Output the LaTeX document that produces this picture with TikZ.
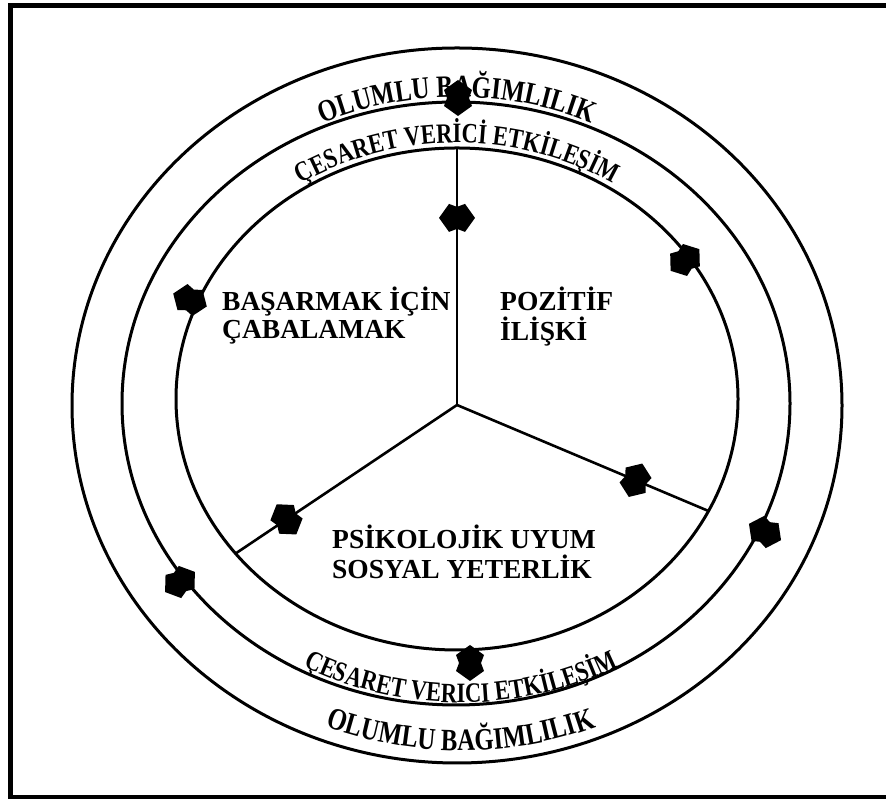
\documentclass[tikz,border=0pt]{standalone}
\usepackage{fontspec}
\setmainfont{Liberation Serif}
\newfontfamily\bandfont{Liberation Serif}[FakeStretch=0.8]
\usetikzlibrary{calc,decorations.text}
\begin{document}
\begin{tikzpicture}[x=1pt,y=1pt,
  ring/.style={line width=3pt},
  spoke/.style={line width=2.6pt},
  lbl/.style={font=\bfseries\fontsize{27.5}{30}\selectfont, inner sep=0pt, anchor=base west},
  dblarrow/.pic={\fill (0,18) -- (14,8) -- (11,0) -- (14,-8) -- (0,-18) -- (-14,-8) -- (-11,0) -- (-14,8) -- cycle;},
]
\useasboundingbox (0,0) rectangle (886,799);
\clip (0,0) rectangle (886,799);
\fill[white] (0,0) rectangle (886,799);
% frame
\draw[line width=5pt] (10.5,1) rectangle (900,793.5);

% centres of the three rings and of the three sectors
\coordinate (co) at (457,393.5);
\coordinate (cm) at (456,395.5);
\coordinate (ci) at (457,400);
\coordinate (P) at (457,394);

\draw[ring] (co) ellipse [x radius=385pt, y radius=357.5pt];
\draw[ring] (cm) ellipse [x radius=334pt, y radius=301.5pt];
\draw[ring] (ci) ellipse [x radius=281pt, y radius=251pt];

% spokes
\coordinate (yt) at ($(ci)+(90:281pt and 251pt)$);
\coordinate (yr) at ($(ci)+(333.5:281pt and 251pt)$);
\coordinate (yl) at ($(ci)+(218:281pt and 251pt)$);
\draw[spoke] (P) -- (yt);
\draw[spoke] (P) -- (yr);
\draw[spoke] (P) -- (yl);

% band texts
\path[decorate, decoration={text along path, text align=center,
  text={|\bandfont\bfseries\fontsize{31}{31}\selectfont|OLUMLU BAĞIMLILIK}}]
  ($(co)+(150:332pt and 308.5pt)$) arc[start angle=150, end angle=30, x radius=332pt, y radius=308.5pt];
\path[decorate, decoration={text along path, text align=center,
  text={|\bandfont\bfseries\fontsize{28}{28}\selectfont|ÇESARET VERİCİ ETKİLEŞİM}}]
  ($(ci)+(155:288pt and 256pt)$) arc[start angle=155, end angle=25, x radius=288pt, y radius=256pt];
\path[decorate, decoration={text along path, text align=center,
  text={|\bandfont\bfseries\fontsize{28}{28}\selectfont|ÇESARET VERICI ETKİLEŞİM}}]
  ($(461,395.5)+(205:330pt and 299pt)$) arc[start angle=205, end angle=335, x radius=330pt, y radius=299pt];
\path[decorate, decoration={text along path, text align=center,
  text={|\bandfont\bfseries\fontsize{31}{31}\selectfont|OLUMLU BAĞIMLILIK}}]
  ($(461,393.5)+(210:371pt and 345pt)$) arc[start angle=210, end angle=330, x radius=371pt, y radius=345pt];

% sector labels
\node[lbl] (l1a) at (222,488) {BAŞARMAK İÇİN};
\node[lbl] (l1b) at (222,460) {ÇABALAMAK};
\node[lbl] (l2a) at (500,488) {POZİTİF};
\node[lbl] (l2b) at (500,458) {İLİŞKİ};
\node[lbl] (l3a) at (332,250) {PSİKOLOJİK UYUM};
\node[lbl] (l3b) at (332,220) {SOSYAL YETERLİK};

% two-way markers
\pic[rotate=0] at (458,701) {dblarrow};
\pic[rotate=90] at ($(P)!0.728!(yt)$) {dblarrow};
\pic[rotate=-22] at ($(P)!0.71!(yr)$) {dblarrow};
\pic[rotate=33] at ($(P)!0.77!(yl)$) {dblarrow};
\pic[rotate=69] at (190,499) {dblarrow};
\pic[rotate=-53] at (685,539) {dblarrow};
\pic[rotate=-56] at (180,217) {dblarrow};
\pic[rotate=63] at (765,267) {dblarrow};
\pic[rotate=0] at (470,136) {dblarrow};
\end{tikzpicture}
\end{document}
